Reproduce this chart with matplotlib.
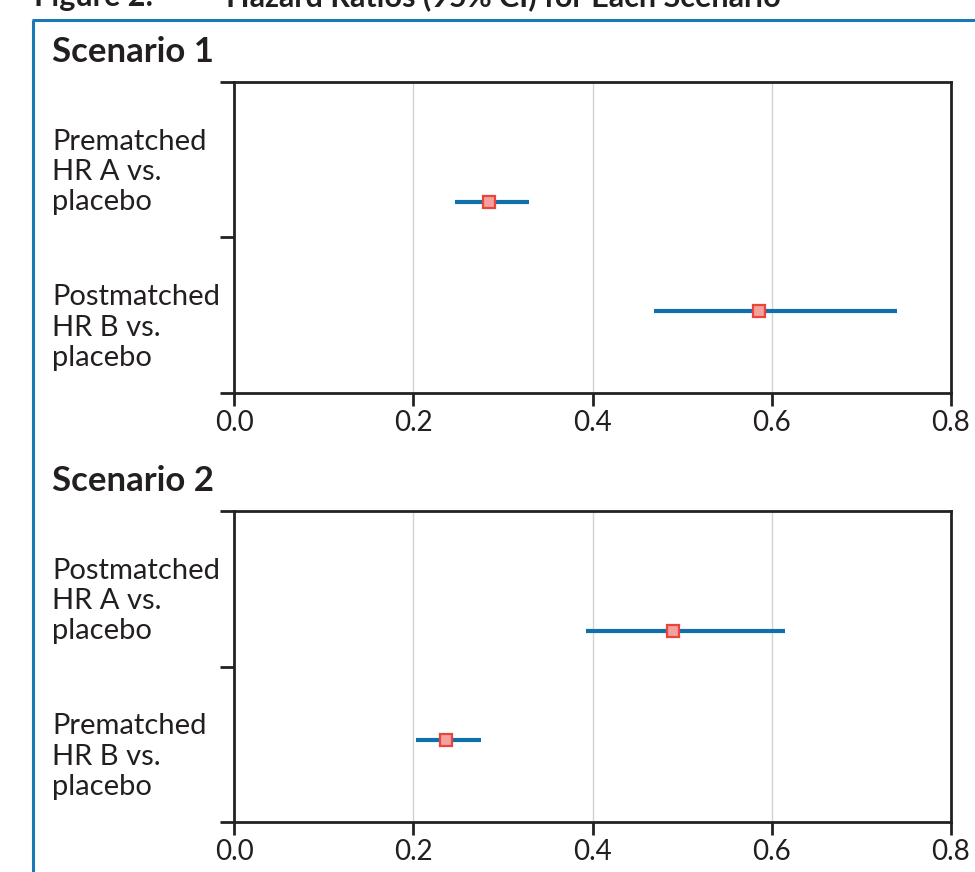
import numpy as np
import matplotlib.pyplot as plt
from matplotlib.lines import Line2D
from matplotlib.transforms import blended_transform_factory

plt.rcParams['font.family'] = ['Lato', 'DejaVu Sans']

# data (hazard ratio, lower CI, upper CI)
s1_labels = ['Prematched\nHR A vs.\nplacebo', 'Postmatched\nHR B vs.\nplacebo']
s1_hr = [0.285, 0.586]
s1_lo = [0.247, 0.469]
s1_hi = [0.329, 0.740]

s2_labels = ['Postmatched\nHR A vs.\nplacebo', 'Prematched\nHR B vs.\nplacebo']
s2_hr = [0.490, 0.237]
s2_lo = [0.393, 0.203]
s2_hi = [0.615, 0.276]

xticks = [0.0, 0.2, 0.4, 0.6, 0.8]

W, H = 975, 872
fig = plt.figure(figsize=(W / 100, H / 100), dpi=100)

# blue frame and cut-off figure title
fig.add_artist(Line2D([33 / W, 33 / W], [0, 1 - 20 / H], transform=fig.transFigure,
                      color='#1a78b4', lw=2.2, solid_capstyle='butt'))
fig.add_artist(Line2D([33 / W - 0.001, 1.0], [1 - 20 / H, 1 - 20 / H], transform=fig.transFigure,
                      color='#1a78b4', lw=2.2, solid_capstyle='butt'))
fig.text(34 / W, 1 - 6 / H, 'Figure 2:', fontsize=22, fontweight='bold', color='#231f20', va='baseline')
fig.text(226 / W, 1 - 6 / H, 'Hazard Ratios (95% CI) for Each Scenario', fontsize=22,
         fontweight='bold', color='#231f20', va='baseline')


def panel(top_px, title, labels, hr, lo, hi):
    bottom_px = top_px + 311
    ax = fig.add_axes([234 / W, 1 - bottom_px / H, (951 - 234) / W, 311 / H])
    ypos = np.arange(len(hr)) * 0.7 + 0.77
    ax.hlines(ypos, lo, hi, color='#1170aa', lw=3, zorder=3)
    ax.plot(hr, ypos, 's', ms=9, mfc='#f4a19d', mec='#e8453c', mew=1.6, zorder=4)
    ax.set_xlim(0, 0.8)
    ax.set_ylim(2, 0)
    ax.set_xticks(xticks)
    ax.set_xticklabels([f'{v:.1f}' for v in xticks])
    ax.set_yticks([0, 1, 2])
    ax.set_yticklabels([])
    for x in xticks[1:-1]:
        ax.axvline(x, color='#d3d3d3', lw=1, zorder=1)
    for s in ax.spines.values():
        s.set_color('#222222')
        s.set_linewidth(2)
    ax.tick_params(axis='x', length=9, width=2, color='#222222', labelsize=20,
                   labelcolor='#231f20', pad=3)
    ax.tick_params(axis='y', length=10, width=2, color='#222222')
    tr = blended_transform_factory(fig.transFigure, ax.transData)
    for i, lab in enumerate(labels):
        ax.text(52 / W, i + 0.58, lab, transform=tr, ha='left', va='center',
                fontsize=21, color='#231f20', linespacing=1.2)
    fig.text(52 / W, 1 - (top_px - 20) / H, title, fontsize=25, fontweight='bold',
             color='#231f20', va='baseline')
    return ax


panel(82, 'Scenario 1', s1_labels, s1_hr, s1_lo, s1_hi)
panel(511, 'Scenario 2', s2_labels, s2_hr, s2_lo, s2_hi)

fig.savefig('out.png', dpi=100)
